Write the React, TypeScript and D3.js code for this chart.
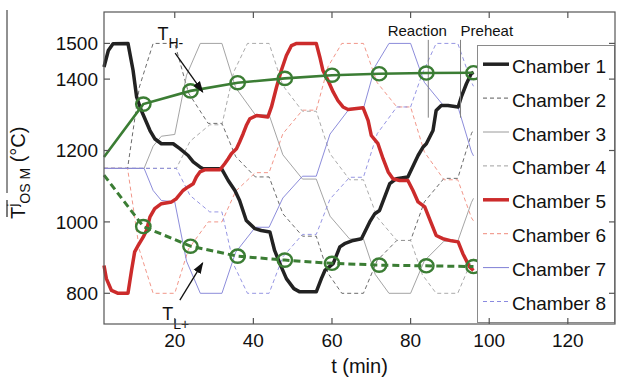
import React, { useEffect, useRef } from "react";
import * as d3 from "d3";

type Pt = [number, number];

const timeTicks = [20, 40, 60, 80, 100, 120];
const tempTicks = [800, 1000, 1200, 1400, 1500];

// chamber temperatures, [t (min), T (°C)]
const chamber1: Pt[] = [
  [2, 1434], [3.1, 1480], [4.3, 1499], [8.1, 1500], [9.4, 1424], [10.3, 1350], [11.5, 1312],
  [13.7, 1256], [14.9, 1233], [16.6, 1219], [19.6, 1219], [21.3, 1205], [23.4, 1186], [24.7, 1168],
  [26.4, 1154], [27.2, 1149], [31.9, 1149], [33.6, 1116], [35.3, 1088], [36.5, 1060], [38.2, 1004],
  [40.4, 981], [42, 976], [44.2, 972], [45.4, 920], [47.1, 874], [48.4, 841], [50.3, 813],
  [51.8, 804], [56, 804], [57.3, 841], [58.2, 864], [60.3, 883], [62, 930], [63.2, 939],
  [65.4, 948], [67.5, 953], [69.6, 1000], [70.9, 1023], [72.1, 1032], [74.7, 1107], [76.4, 1121],
  [79.3, 1126], [81.9, 1186], [83.2, 1210], [84, 1219], [85.7, 1256], [86.5, 1312], [87.8, 1326],
  [89.5, 1326], [92.1, 1322], [92.9, 1350], [94.2, 1387], [95.4, 1415], [96, 1419],
];
const chamber2: Pt[] = [
  [2, 1150], [8, 1150], [11, 1378], [14.5, 1500], [20, 1500], [23.5, 1361], [28.5, 1276], [32, 1276],
  [35.5, 1183], [40.5, 1126], [44, 1126], [47.5, 1023], [52.5, 960], [56, 960], [59, 856],
  [62.5, 800], [68, 800], [71.5, 892], [76.5, 948], [80, 948], [83.5, 1056], [88.5, 1122],
  [92, 1122], [95.5, 1248], [96, 1258],
];
const chamber3: Pt[] = [
  [2, 1150], [12.2, 1150], [14.5, 1212], [16.6, 1240], [20, 1245], [23, 1411], [26.5, 1500],
  [32, 1500], [35.5, 1376], [40.5, 1300], [44, 1300], [47.5, 1188], [52.5, 1120], [56, 1120],
  [59.5, 1016], [64.5, 952], [68, 952], [71, 853], [74.5, 800], [80, 800], [83.5, 891],
  [88.5, 946], [92, 946], [95.5, 1055], [96, 1066],
];
const chamber4: Pt[] = [
  [2, 1150], [20.4, 1150], [23.9, 1226], [28.9, 1272], [32, 1272], [35, 1420], [38.5, 1500],
  [44, 1500], [47.5, 1382], [52.5, 1310], [56, 1310], [59.5, 1191], [64.5, 1118], [68, 1118],
  [71.5, 1013], [76.5, 948], [80, 948], [83, 852], [86.5, 800], [92, 800], [95.5, 891], [96, 897],
];
const chamber5: Pt[] = [
  [2, 878], [2.6, 841], [3.9, 808], [5.6, 800], [8.1, 800], [9, 864], [9.8, 916], [10.7, 934],
  [12, 958], [12.8, 976], [13.7, 1014], [14.9, 1037], [16.6, 1051], [19.2, 1056], [20.4, 1065],
  [22.1, 1088], [23.4, 1098], [24.7, 1107], [25.5, 1126], [26.4, 1140], [27.6, 1146], [31.5, 1146],
  [32.7, 1163], [33.6, 1177], [34.4, 1191], [35.7, 1205], [36.5, 1224], [37.4, 1247], [38.2, 1270],
  [39.1, 1289], [40.8, 1298], [43.7, 1294], [44.6, 1322], [45.9, 1378], [47.1, 1424], [48.4, 1466],
  [49.7, 1494], [51, 1500], [56, 1500], [56.9, 1462], [57.7, 1424], [59, 1396], [60.3, 1364],
  [61.5, 1340], [62.8, 1322], [64.1, 1315], [67.9, 1320], [69.2, 1284], [70, 1242], [71.7, 1219],
  [73, 1177], [74.3, 1140], [75.5, 1121], [77.2, 1116], [79.3, 1116], [80.6, 1088], [81.9, 1056],
  [83.6, 1042], [85.3, 995], [86.5, 962], [88.2, 953], [90.4, 947], [92.1, 944], [93.3, 911],
  [95, 874], [96, 864],
];
const chamber6: Pt[] = [
  [2, 1150], [8, 1150], [11, 922], [14.5, 800], [20, 800], [23.5, 924], [28.5, 1000], [32, 1000],
  [35.5, 1086], [40.5, 1138], [44, 1138], [47.5, 1247], [52.5, 1313], [56, 1313], [59, 1435],
  [62.5, 1500], [68, 1500], [71.5, 1390], [76.5, 1322], [80, 1322], [83.5, 1196], [88.5, 1118],
  [92, 1118], [95.5, 1011], [96, 1003],
];
const chamber7: Pt[] = [
  [2, 1150], [12.2, 1150], [14.5, 1088], [16.6, 1060], [20, 1056], [23, 890], [26.5, 800],
  [32, 800], [35.5, 915], [40.5, 985], [44, 985], [47.5, 1067], [52.5, 1128], [56, 1128],
  [59.5, 1246], [64.5, 1318], [68, 1318], [71, 1436], [74.5, 1500], [80, 1500], [83.5, 1391],
  [88.5, 1324], [92, 1324], [95.5, 1196], [96, 1185],
];
const chamber8: Pt[] = [
  [2, 1150], [20.4, 1150], [23.9, 1074], [28.9, 1028], [32, 1028], [35, 880], [38.5, 800],
  [44, 800], [47.5, 902], [52.5, 965], [56, 965], [59.5, 1064], [64.5, 1125], [68, 1125],
  [71.5, 1247], [76.5, 1322], [80, 1322], [83, 1416], [86.5, 1500], [92, 1500], [95.5, 1391],
  [96, 1380],
];

const chamberNames = ["Chamber 1", "Chamber 2", "Chamber 3", "Chamber 4", "Chamber 5", "Chamber 6", "Chamber 7", "Chamber 8"];
const chamberData = [chamber1, chamber2, chamber3, chamber4, chamber5, chamber6, chamber7, chamber8];
const chamberColors = ["#222222", "#5a5a5a", "#9a9a9a", "#a0a0a0", "#cc2b2b", "#ef8a7c", "#7f7fd6", "#8a8ae0"];
const chamberWidths = [3.5, 0.9, 0.9, 0.9, 3.5, 0.9, 0.9, 0.9];
const chamberDashes = [null, "4,3", null, "4,3", null, "4,3", null, "4,3"];
const drawOrder = [1, 2, 3, 5, 6, 7, 0, 4];

// T_H- and T_L+ at the end of each step
const stepTimes = [2, 12, 24, 36, 48, 60, 72, 84, 96];
const tHighMinus = [1182, 1330, 1367, 1390, 1402, 1411, 1415, 1417, 1418];
const tLowPlus = [1131, 987, 932, 904, 893, 884, 879, 877, 875];

const phaseNames = ["Reaction", "Preheat"];
const phaseLabelTimes = [81.7, 99.4];
const phaseLineTimes = [84.5, 92.7];

const FONT = "'Liberation Sans', Arial, sans-serif";
const GREEN = "#3b7d34";

export default function App() {
  const ref = useRef<SVGSVGElement>(null);

  useEffect(() => {
    const svg = d3.select(ref.current);
    svg.selectAll("*").remove();

    const left = 104, right = 615, top = 12, bottom = 324;
    const x = d3.scaleLinear().domain([2, 132]).range([left, right]);
    const y = d3.scaleLinear().domain([714, 1588]).range([bottom, top]);

    const line = d3
      .line<Pt>()
      .x((d) => x(d[0]))
      .y((d) => y(d[1]));

    const g = svg.append("g");

    drawOrder.forEach((i) => {
      g.append("path")
        .datum(chamberData[i])
        .attr("fill", "none")
        .attr("stroke", chamberColors[i])
        .attr("stroke-width", chamberWidths[i])
        .attr("stroke-dasharray", chamberDashes[i])
        .attr("stroke-linejoin", "round")
        .attr("d", line);
    });

    // phase markers
    phaseLineTimes.forEach((t) => {
      g.append("line")
        .attr("x1", x(t)).attr("x2", x(t))
        .attr("y1", y(1510)).attr("y2", y(1292))
        .attr("stroke", "#808080").attr("stroke-width", 1);
    });
    phaseNames.forEach((n, i) => {
      g.append("text")
        .attr("x", x(phaseLabelTimes[i]))
        .attr("y", y(1520))
        .attr("text-anchor", "middle")
        .attr("font-family", FONT)
        .attr("font-size", 15)
        .attr("fill", "#111")
        .text(n);
    });

    // T_H- and T_L+
    const hi: Pt[] = stepTimes.map((t, i) => [t, tHighMinus[i]]);
    const lo: Pt[] = stepTimes.map((t, i) => [t, tLowPlus[i]]);
    g.append("path").datum(hi).attr("fill", "none").attr("stroke", GREEN).attr("stroke-width", 2.6).attr("d", line);
    g.append("path").datum(lo).attr("fill", "none").attr("stroke", GREEN).attr("stroke-width", 3)
      .attr("stroke-dasharray", "7,4").attr("d", line);
    [hi, lo].forEach((pts) => {
      g.selectAll(null)
        .data(pts.slice(1))
        .join("ellipse")
        .attr("cx", (d) => x(d[0]))
        .attr("cy", (d) => y(d[1]))
        .attr("rx", 7.2)
        .attr("ry", 6.6)
        .attr("fill", "none")
        .attr("stroke", GREEN)
        .attr("stroke-width", 2.4);
    });

    // annotations
    const defs = svg.append("defs");
    defs.append("marker")
      .attr("id", "arrow")
      .attr("viewBox", "0 0 10 10")
      .attr("refX", 9).attr("refY", 5)
      .attr("markerWidth", 9).attr("markerHeight", 9)
      .attr("orient", "auto-start-reverse")
      .append("path").attr("d", "M0,1.5 L10,5 L0,8.5 Z").attr("fill", "#111");

    g.append("line")
      .attr("x1", x(20.1)).attr("y1", y(1473))
      .attr("x2", x(27.1)).attr("y2", y(1364))
      .attr("stroke", "#111").attr("stroke-width", 1.3).attr("marker-end", "url(#arrow)");
    g.append("line")
      .attr("x1", x(21.3)).attr("y1", y(781))
      .attr("x2", x(27.1)).attr("y2", y(885))
      .attr("stroke", "#111").attr("stroke-width", 1.3).attr("marker-end", "url(#arrow)");

    const th = g.append("text").attr("x", x(15.6)).attr("y", y(1509)).attr("font-family", FONT).attr("font-size", 18).attr("fill", "#111");
    th.append("tspan").text("T");
    th.append("tspan").attr("dy", 8).attr("font-size", 14).text("H-");
    const tl = g.append("text").attr("x", x(16.8)).attr("y", y(725)).attr("font-family", FONT).attr("font-size", 18).attr("fill", "#111");
    tl.append("tspan").text("T");
    tl.append("tspan").attr("dy", 9).attr("font-size", 14).text("L+");

    // legend
    const lg = svg.append("g");
    lg.append("rect")
      .attr("x", 477.5).attr("y", 45.5).attr("width", 137).attr("height", 277)
      .attr("fill", "#fff").attr("stroke", "#8a8a8a").attr("stroke-width", 1);
    chamberNames.forEach((name, i) => {
      const by = 72.7 + i * 33.9;
      lg.append("line")
        .attr("x1", 483).attr("x2", 509)
        .attr("y1", by - 8.5).attr("y2", by - 8.5)
        .attr("stroke", chamberColors[i])
        .attr("stroke-width", chamberWidths[i] > 2 ? 3.5 : 1)
        .attr("stroke-dasharray", chamberDashes[i]);
      lg.append("text")
        .attr("x", 512).attr("y", by)
        .attr("font-family", FONT).attr("font-size", 19).attr("fill", "#111")
        .text(name);
    });

    // axes box and ticks
    const ax = svg.append("g").attr("stroke", "#555").attr("stroke-width", 1.2);
    ax.append("rect").attr("x", left).attr("y", top).attr("width", right - left).attr("height", bottom - top).attr("fill", "none");
    timeTicks.forEach((t) => {
      ax.append("line").attr("x1", x(t)).attr("x2", x(t)).attr("y1", bottom).attr("y2", bottom - 6);
      ax.append("line").attr("x1", x(t)).attr("x2", x(t)).attr("y1", top).attr("y2", top + 6);
    });
    tempTicks.forEach((v) => {
      ax.append("line").attr("x1", left).attr("x2", left + 6).attr("y1", y(v)).attr("y2", y(v));
      ax.append("line").attr("x1", right).attr("x2", right - 6).attr("y1", y(v)).attr("y2", y(v));
    });

    const lab = svg.append("g").attr("font-family", FONT).attr("font-size", 19).attr("fill", "#111");
    timeTicks.forEach((t) => {
      lab.append("text").attr("x", x(t)).attr("y", 347).attr("text-anchor", "middle").text(t);
    });
    tempTicks.forEach((v) => {
      lab.append("text").attr("x", 98).attr("y", y(v)).attr("dy", "0.36em").attr("text-anchor", "end").text(v);
    });
    lab.append("text").attr("x", (left + right) / 2).attr("y", 373).attr("text-anchor", "middle").attr("font-size", 20).text("t (min)");

    // y-axis title
    const yt = lab.append("text").attr("transform", "translate(25,219) rotate(-90)").attr("font-size", 20);
    yt.append("tspan").text("T");
    yt.append("tspan").attr("dy", -7).attr("font-size", 14).text("j");
    yt.append("tspan").attr("dy", 12).attr("font-size", 14).text("OS M");
    yt.append("tspan").attr("dy", -5).text(" (°C)");
    lab.append("line").attr("x1", 7).attr("x2", 7).attr("y1", 10).attr("y2", 193).attr("stroke", "#222").attr("stroke-width", 1);
    lab.append("line").attr("x1", 7).attr("x2", 7).attr("y1", 200).attr("y2", 217).attr("stroke", "#222").attr("stroke-width", 1.2);
  }, []);

  return (
    <svg
      ref={ref}
      width={619}
      height={379}
      style={{ position: "absolute", left: 0, top: 0, background: "#fff" }}
    />
  );
}
